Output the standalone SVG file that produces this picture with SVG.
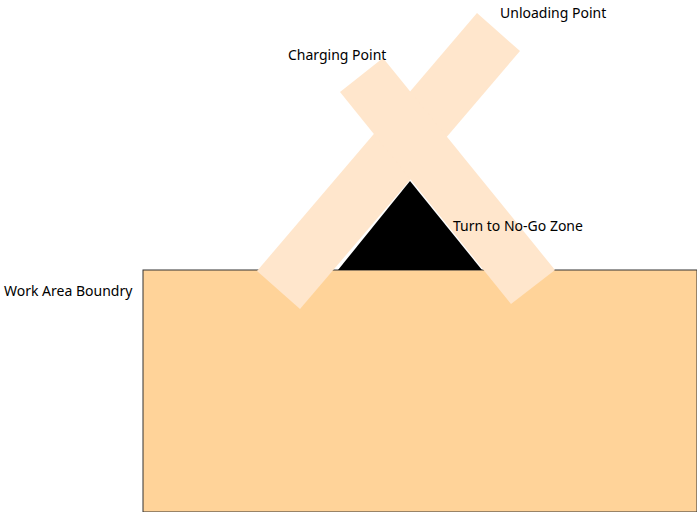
<svg xmlns="http://www.w3.org/2000/svg" width="697" height="512" viewBox="0 0 697 512">
<style>
.lbl{font-family:"Noto Sans","Open Sans",sans-serif;font-size:14px;fill:#000}
.bar{fill:#FFE6CC;stroke:none}
</style>
<rect width="697" height="512" fill="#FFFFFF"/>
<g id="work-area">
<rect x="143" y="270" width="554" height="242" fill="#FFD399" stroke="#333333" stroke-width="1"/>
</g>
<g id="no-go-zone">
<polygon points="410,181 338,270 482,270" fill="#000000"/>
</g>
<g id="unloading-bar">
<polygon class="bar" points="477,13 520,51 300,309 257,271"/>
</g>
<g id="charging-bar">
<polygon class="bar" points="383,58 555,270 511,304 340,92"/>
</g>
<g id="labels">
<text class="lbl" x="500" y="18">Unloading Point</text>
<text class="lbl" x="288" y="60">Charging Point</text>
<text class="lbl" x="453" y="231">Turn to No-Go Zone</text>
<text class="lbl" x="4" y="296">Work Area Boundry</text>
</g>
<g id="connectors"></g>
</svg>
